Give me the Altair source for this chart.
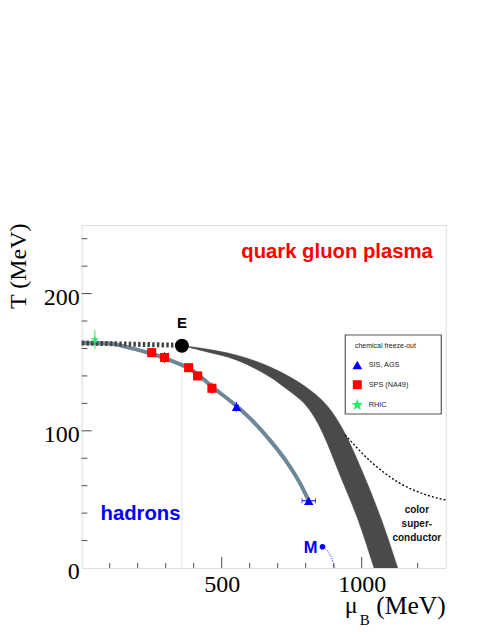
import altair as alt
import pandas as pd

# ---------------- data ----------------
EXPS = ["SIS, AGS", "SPS (NA49)", "RHIC"]
EXP_COLORS = ["#0000ff", "#ff0000", "#22ee66"]
STAR = ("M0,-1L0.235,-0.324L0.951,-0.309L0.380,0.124L0.588,0.809L0,0.4"
        "L-0.588,0.809L-0.380,0.124L-0.951,-0.309L-0.235,-0.324Z")
EXP_SHAPES = ["triangle-up", "square", STAR]
EXP_SIZES = [90, 75, 190]
LEGEND_TITLE = "chemical freeze-out"

sis_mu = [553, 811]
sis_T = [117.5, 49]
sis_mu_err = [6, 24]
sis_T_err = [3.5, 1.5]

sps_mu = [250, 296, 382, 414, 465]
sps_T = [157, 153.4, 146, 140, 131]
sps_T_err = [2, 4, 2, 2, 4]

rhic_mu = [47]
rhic_T = [166.5]
rhic_T_err = [7]

# freeze-out curve
fo_mu = [0, 100, 161, 244, 315, 399, 470, 553, 613, 672, 732, 780, 811]
fo_T = [164, 163.6, 161, 156.5, 151.5, 143.5, 131.5, 118, 106.6, 93.2, 77.4, 61.7, 49]

# crossover (dotted) up to critical point
cross_mu = [0, 350]
cross_T = [164, 162.3]

# critical point E
e_mu = [358]
e_T = [162]

# first order transition band
band_upper_mu = [358, 434, 554, 672, 791, 875, 934, 1000, 1071, 1129, 1146]
band_upper_T = [162, 160, 155.1, 146.6, 133.3, 118.7, 100.5, 71.4, 35, 0, -10]
band_lower_mu = [358, 434, 554, 672, 733, 790, 833, 872, 915, 987, 1044, 1060]
band_lower_T = [162, 158.2, 151.5, 139.3, 130.3, 120.9, 109.2, 93.2, 71.4, 35, 0, -10]

# colour superconductor boundary
sc_mu = [941, 1041, 1137, 1232, 1300]
sc_T = [97, 76, 61.7, 53.2, 49.5]

# nuclear matter point M and its line
m_mu = [860]
m_T = [15.5]
mline_mu = [860, 873, 884, 893, 900, 905]
mline_T = [15.5, 13.6, 10.6, 7, 3, 0]

# axis ticks
x_major = [500, 1000]
x_minor = [100, 200, 300, 400, 600, 700, 800, 900, 1100, 1200]
y_major = [100, 200]
y_minor = [20, 40, 60, 80, 120, 140, 160, 180, 220, 240]

# annotations
qgp_label, qgp_mu, qgp_T = "quark gluon plasma", 912, 226
had_label, had_mu, had_T = "hadrons", 210, 35

sc_lines = ["color", "super-", "conductor"]
sc_lines_T = [39.8, 30.1, 19.9]
sc_lines_mu = [1197, 1197, 1197]

W, H = 364, 343
XS = alt.Scale(domain=[0, 1300], nice=False, zero=False)
YS = alt.Scale(domain=[0, 250], nice=False, zero=False)
SERIF = "Liberation Serif"
SANS = "Liberation Sans"

# ---------------- tables ----------------
pts = pd.DataFrame(
    {"exp": ["SIS, AGS"] * len(sis_mu) + ["SPS (NA49)"] * len(sps_mu) + ["RHIC"] * len(rhic_mu),
     "mu": sis_mu + sps_mu + rhic_mu,
     "T": sis_T + sps_T + rhic_T,
     "terr": sis_T_err + sps_T_err + rhic_T_err,
     "merr": sis_mu_err + [0] * len(sps_mu) + [0] * len(rhic_mu)}
)
pts["tlo"] = pts["T"] - pts["terr"]
pts["thi"] = pts["T"] + pts["terr"]
pts["mlo"] = pts["mu"] - pts["merr"]
pts["mhi"] = pts["mu"] + pts["merr"]
hpts = pts[pts["merr"] > 0].reset_index(drop=True)

band = pd.DataFrame(
    {"mu": band_upper_mu + band_lower_mu[::-1],
     "T": band_upper_T + band_lower_T[::-1]}
)
band["ord"] = list(range(len(band)))

fo = pd.DataFrame({"mu": fo_mu, "T": fo_T})
cross = pd.DataFrame({"mu": cross_mu, "T": cross_T})
sc = pd.DataFrame({"mu": sc_mu, "T": sc_T})
mline = pd.DataFrame({"mu": mline_mu, "T": mline_T})
epoint = pd.DataFrame({"mu": e_mu, "T": e_T, "zero": [0] * len(e_mu)})
mpoint = pd.DataFrame({"mu": m_mu, "T": m_T})

XAXIS = alt.Axis(values=x_major, ticks=False, domain=False, grid=False, title=None,
                 format="d", labelFont=SERIF, labelFontSize=24, labelColor="#000",
                 labelPadding=5, labelFlush=False)
YAXIS = alt.Axis(values=[0, 100, 200], ticks=False, domain=False, grid=False,
                 title="T (MeV)", titleFont=SERIF, titleFontSize=24,
                 titleFontWeight="normal", titleColor="#000",
                 titleAngle=270, titleAlign="right", titleBaseline="alphabetic",
                 titleX=-56, titleY=-2, format="d",
                 labelFont=SERIF, labelFontSize=24, labelColor="#000",
                 labelPadding=2.5, labelBaseline="middle", labelOffset=4)


def X(f="mu"):
    return alt.X(f + ":Q", scale=XS, axis=XAXIS)


def Y(f="T"):
    return alt.Y(f + ":Q", scale=YS, axis=YAXIS)


e_vline = alt.Chart(epoint).mark_rule(color="#e4e4e4", strokeWidth=1).encode(
    x=X(), y=Y(), y2="zero:Q")

band_layer = alt.Chart(band).mark_line(
    fill="#4a4a4a", stroke="#4a4a4a", strokeWidth=0.5, interpolate="catmull-rom", clip=True
).encode(x=X(), y=Y(), order="ord:Q")

sc_layer = alt.Chart(sc).mark_line(color="#000", strokeWidth=1.3, strokeDash=[2, 2],
                                   interpolate="monotone").encode(x=X(), y=Y())

fo_layer = alt.Chart(fo).mark_line(color="#6d8798", strokeWidth=4,
                                   interpolate="monotone").encode(x=X(), y=Y())

cross_layer = alt.Chart(cross).mark_line(color="#454545", strokeWidth=5,
                                         strokeDash=[2.5, 2.2]).encode(x=X(), y=Y())

mline_layer = alt.Chart(mline).mark_line(color="#0000ff", strokeWidth=1, strokeDash=[1, 1.5],
                                         interpolate="monotone", clip=True).encode(x=X(), y=Y())

col = alt.Color("exp:N", scale=alt.Scale(domain=EXPS, range=EXP_COLORS), legend=None)
shp = alt.Shape("exp:N", scale=alt.Scale(domain=EXPS, range=EXP_SHAPES), legend=None)

vbars = alt.Chart(pts).mark_rule(strokeWidth=1).encode(x=X(), y=Y("tlo"), y2="thi:Q", color=col)
hbars = alt.Chart(hpts).mark_rule(strokeWidth=1).encode(x=X("mlo"), x2="mhi:Q", y=Y(), color=col)
caps_lo = alt.Chart(hpts).mark_tick(orient="vertical", size=5, thickness=1).encode(
    x=X("mlo"), y=Y(), color=col)
caps_hi = alt.Chart(hpts).mark_tick(orient="vertical", size=5, thickness=1).encode(
    x=X("mhi"), y=Y(), color=col)

points = alt.Chart(pts).mark_point(filled=True, opacity=1).encode(
    x=X(), y=Y(), color=col, shape=shp,
    size=alt.Size("exp:N", scale=alt.Scale(domain=EXPS, range=EXP_SIZES), legend=None),
)

e_dot = alt.Chart(epoint).mark_circle(color="#000", size=195, opacity=1).encode(x=X(), y=Y())
m_dot = alt.Chart(mpoint).mark_circle(color="#0000ff", size=32, opacity=1).encode(x=X(), y=Y())

e_txt = alt.Chart(epoint).mark_text(text="E", font=SANS, fontWeight="bold", fontSize=15,
                                    color="#000", baseline="alphabetic", dy=-18).encode(x=X(), y=Y())
m_txt = alt.Chart(mpoint).mark_text(text="M", font=SANS, fontWeight="bold", fontSize=16.5,
                                    color="#0000ff", baseline="alphabetic", align="right",
                                    dx=-5, dy=6).encode(x=X(), y=Y())

qgp_txt = alt.Chart(pd.DataFrame({"label": [qgp_label], "mu": [qgp_mu], "T": [qgp_T]})).mark_text(
    font=SANS, fontWeight="bold", fontSize=20.3, color="#ff0000",
    baseline="alphabetic", align="center").encode(x=X(), y=Y(), text="label:N")
had_txt = alt.Chart(pd.DataFrame({"label": [had_label], "mu": [had_mu], "T": [had_T]})).mark_text(
    font=SANS, fontWeight="bold", fontSize=20.3, color="#0000ff",
    baseline="alphabetic", align="center").encode(x=X(), y=Y(), text="label:N")

scl = pd.DataFrame({"label": sc_lines, "mu": sc_lines_mu, "T": sc_lines_T})
sc_txt = alt.Chart(scl).mark_text(font=SANS, fontWeight="bold", fontSize=10, color="#111",
                                  baseline="alphabetic", align="center").encode(
    x=X(), y=Y(), text="label:N")

# inward ticks
tick_col = "#4d4d4d"
ymaj = alt.Chart(pd.DataFrame({"T": y_major})).mark_rule(color=tick_col, strokeWidth=1).encode(
    y=Y(), x=alt.value(0), x2=alt.value(10))
ymin = alt.Chart(pd.DataFrame({"T": y_minor})).mark_rule(color=tick_col, strokeWidth=1).encode(
    y=Y(), x=alt.value(0), x2=alt.value(5.7))
xmaj = alt.Chart(pd.DataFrame({"mu": x_major})).mark_rule(color=tick_col, strokeWidth=1).encode(
    x=X(), y=alt.value(H), y2=alt.value(H - 11))
xmin = alt.Chart(pd.DataFrame({"mu": x_minor})).mark_rule(color=tick_col, strokeWidth=1).encode(
    x=X(), y=alt.value(H), y2=alt.value(H - 5))

# legend (drawn as a framed box with symbols and labels)
one = pd.DataFrame({"k": [0]})
leg_layers = [
    alt.Chart(one).mark_rect(fill="white", stroke="#555", strokeWidth=1.2).encode(
        x=alt.value(263.6), x2=alt.value(359.6), y=alt.value(110), y2=alt.value(189)),
    alt.Chart(one).mark_text(text=LEGEND_TITLE, font=SANS, fontSize=7, color="#222",
                             align="left", baseline="middle").encode(
        x=alt.value(273.3), y=alt.value(120.7)),
]
LEG_ROW_Y = [140, 159.7, 180]
LEG_SYM_SIZES = [95, 80, 150]
for i, name in enumerate(EXPS):
    leg_layers.append(
        alt.Chart(one).mark_point(filled=True, opacity=1, shape=EXP_SHAPES[i],
                                  color=EXP_COLORS[i], size=LEG_SYM_SIZES[i]).encode(
            x=alt.value(275.6), y=alt.value(LEG_ROW_Y[i])))
    leg_layers.append(
        alt.Chart(one).mark_text(text=name, font=SANS, fontSize=7.3, color="#222",
                                 align="left", baseline="middle").encode(
            x=alt.value(287), y=alt.value(LEG_ROW_Y[i] + 0.3)))

# x-axis title  mu_B (MeV)
xt_mu = alt.Chart(one).mark_text(text="μ", font=SERIF, fontSize=24, color="#000",
                                 align="left", baseline="alphabetic").encode(
    x=alt.value(263), y=alt.value(388))
xt_b = alt.Chart(one).mark_text(text="B", font=SERIF, fontSize=15, color="#000",
                                align="left", baseline="alphabetic").encode(
    x=alt.value(278), y=alt.value(400))
xt_mev = alt.Chart(one).mark_text(text="(MeV)", font=SERIF, fontSize=25.5, color="#000",
                                  align="right", baseline="alphabetic").encode(
    x=alt.value(364), y=alt.value(389.5))

chart = alt.layer(
    e_vline, band_layer, sc_layer, fo_layer, cross_layer, mline_layer,
    vbars, hbars, caps_lo, caps_hi, points, e_dot, m_dot,
    e_txt, m_txt, qgp_txt, had_txt, sc_txt,
    ymaj, ymin, xmaj, xmin, *leg_layers, xt_mu, xt_b, xt_mev,
).properties(
    width=W, height=H,
    autosize=alt.AutoSizeParams(type="none"),
    padding={"left": 73.7, "top": 217, "right": 37, "bottom": 59},
).configure_view(stroke="#4d4d4d", strokeWidth=1.5, fill="white").configure(background="white")

chart.save("out.html", embed_options={"renderer": "svg", "actions": False})
